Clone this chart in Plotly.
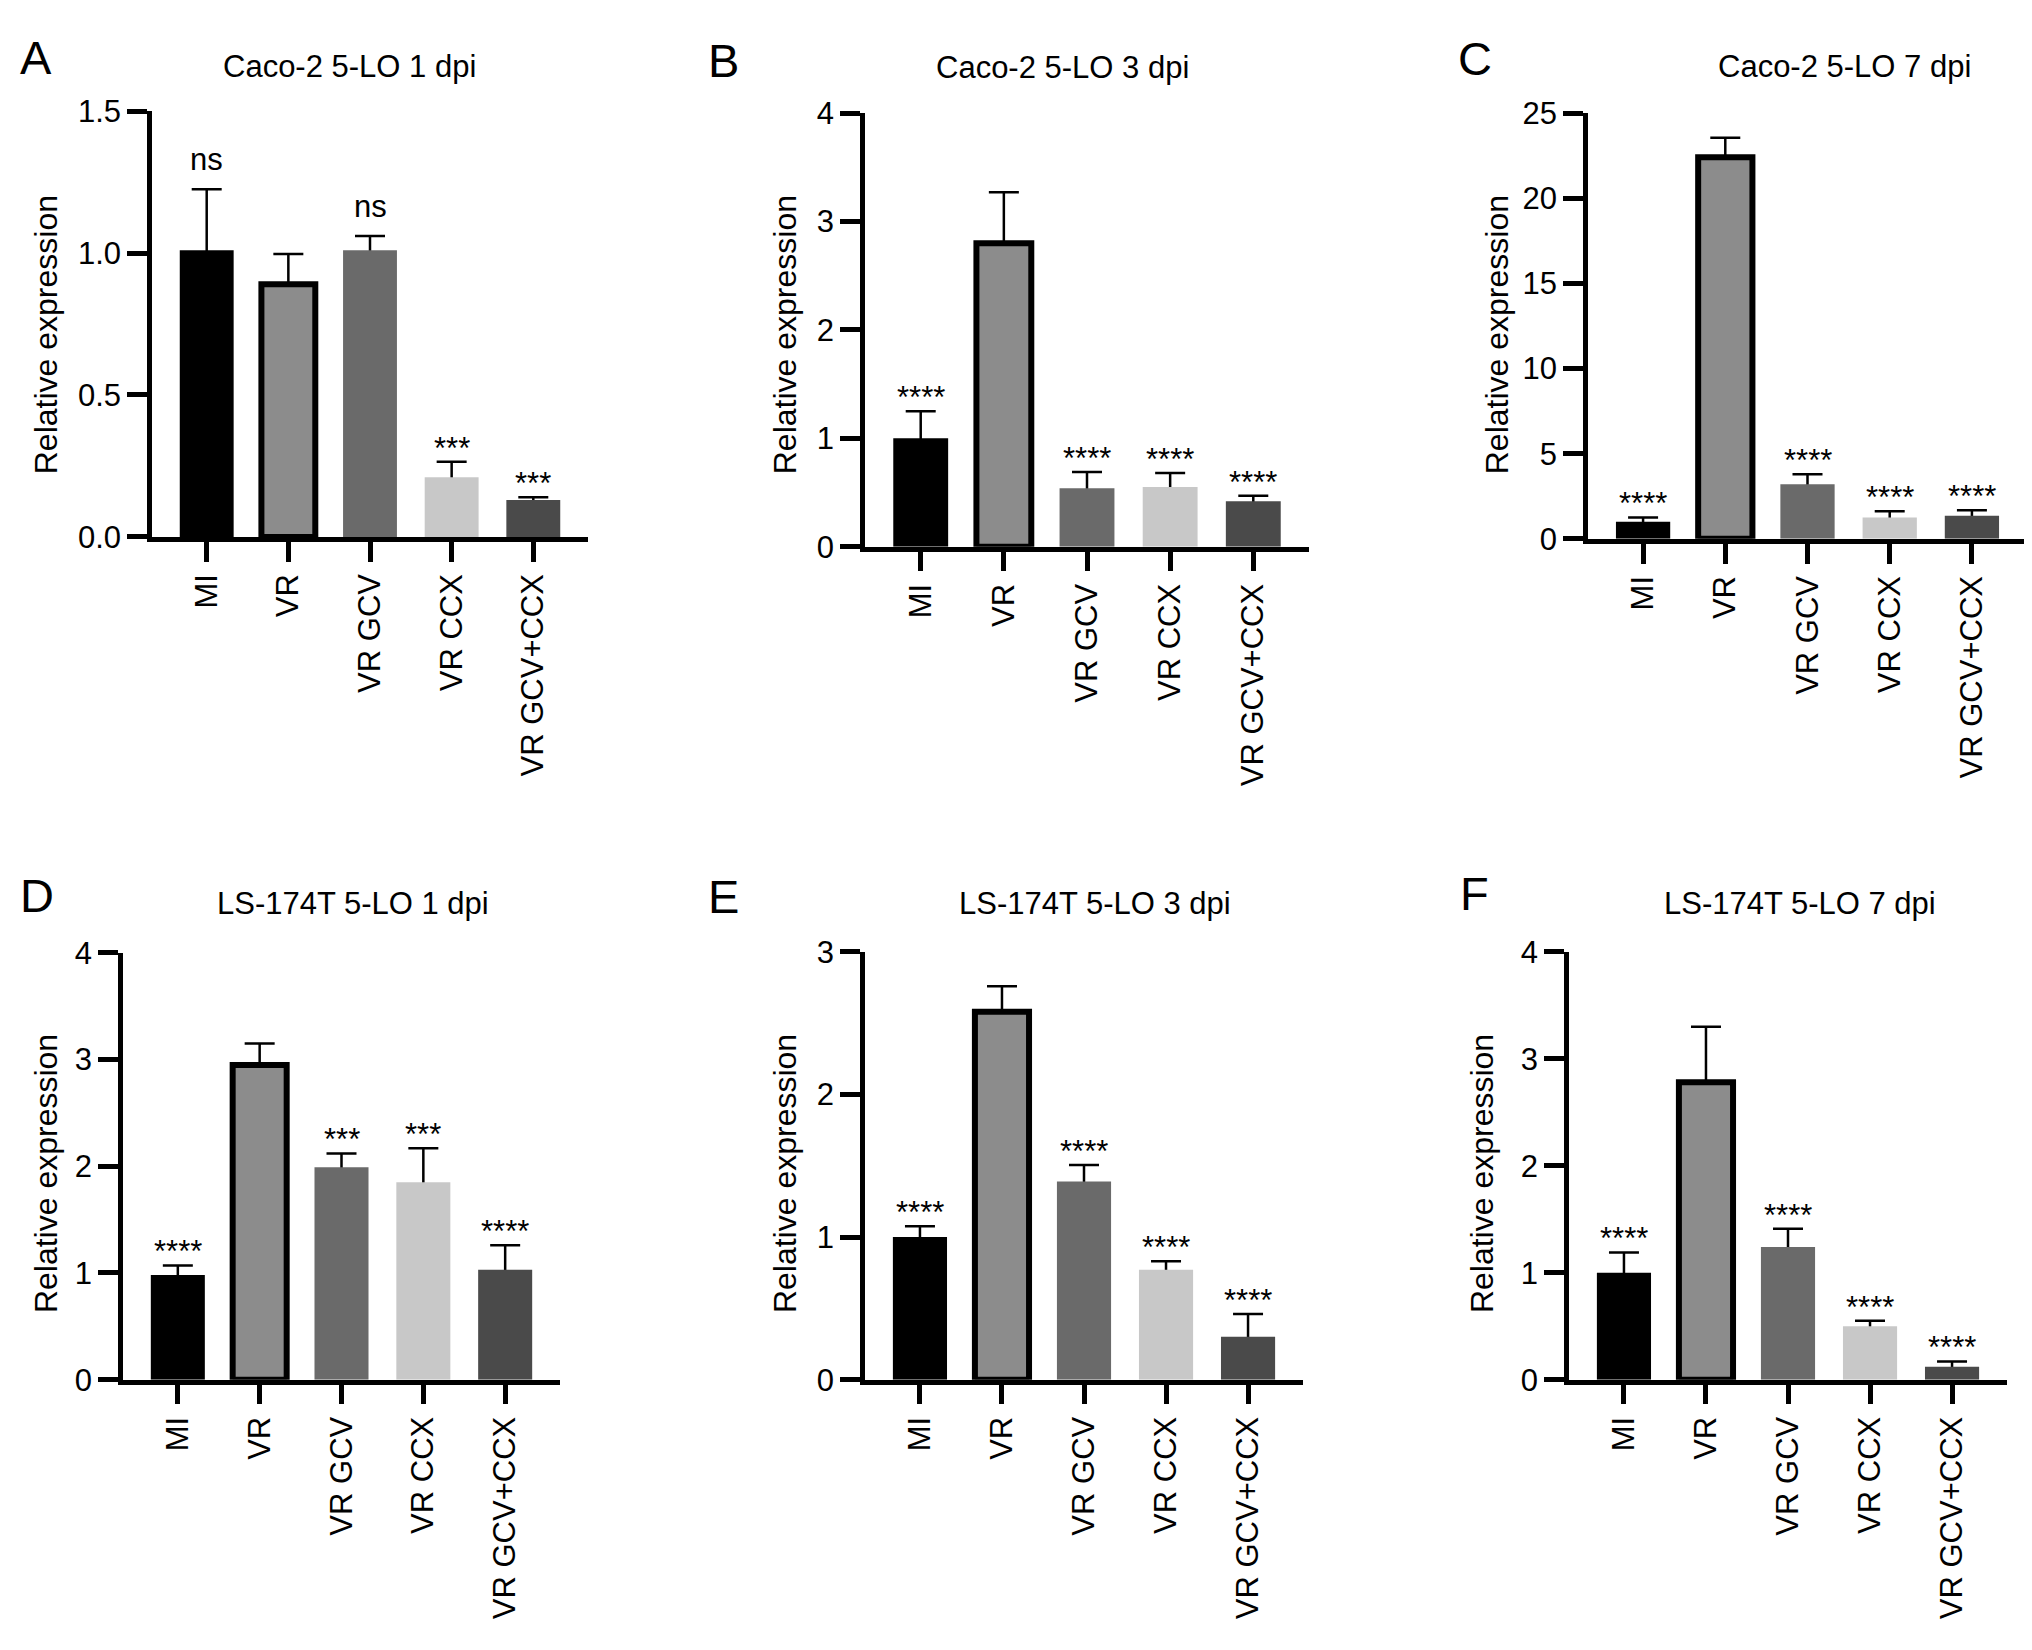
import plotly.graph_objects as go

W, H = 2032, 1650
FONT = "Liberation Sans, Arial, Helvetica, sans-serif"

groups = ["MI", "VR", "VR GCV", "VR CCX", "VR GCV+CCX"]
bar_colors = ["#000000", "#8c8c8c", "#6a6a6a", "#c8c8c8", "#4a4a4a"]
vr_outline = [0, 6, 0, 0, 0]

# mean relative expression and upper SD
caco2_1dpi = [1.01, 0.89, 1.01, 0.21, 0.13]
caco2_1dpi_sd = [0.215, 0.107, 0.05, 0.055, 0.01]
caco2_1dpi_sig = ["ns", "", "ns", "***", "***"]

caco2_3dpi = [1.0, 2.80, 0.54, 0.55, 0.42]
caco2_3dpi_sd = [0.25, 0.47, 0.15, 0.13, 0.05]
caco2_3dpi_sig = ["****", "", "****", "****", "****"]

caco2_7dpi = [1.0, 22.4, 3.2, 1.25, 1.35]
caco2_7dpi_sd = [0.26, 1.15, 0.6, 0.37, 0.33]
caco2_7dpi_sig = ["****", "", "****", "****", "****"]

ls174t_1dpi = [0.98, 2.95, 1.99, 1.85, 1.03]
ls174t_1dpi_sd = [0.09, 0.2, 0.13, 0.32, 0.23]
ls174t_1dpi_sig = ["****", "", "***", "***", "****"]

ls174t_3dpi = [1.0, 2.58, 1.39, 0.77, 0.30]
ls174t_3dpi_sd = [0.075, 0.18, 0.115, 0.06, 0.16]
ls174t_3dpi_sig = ["****", "", "****", "****", "****"]

ls174t_7dpi = [1.0, 2.78, 1.24, 0.50, 0.12]
ls174t_7dpi_sd = [0.19, 0.52, 0.17, 0.05, 0.05]
ls174t_7dpi_sig = ["****", "", "****", "****", "****"]

# letter, title, mean, sd, sig, ymax, dtick, tickformat
panels = [
    ("A", "Caco-2 5-LO 1 dpi", caco2_1dpi, caco2_1dpi_sd, caco2_1dpi_sig, 1.5, 0.5, ".1f"),
    ("B", "Caco-2 5-LO 3 dpi", caco2_3dpi, caco2_3dpi_sd, caco2_3dpi_sig, 4, 1, "d"),
    ("C", "Caco-2 5-LO 7 dpi", caco2_7dpi, caco2_7dpi_sd, caco2_7dpi_sig, 25, 5, "d"),
    ("D", "LS-174T 5-LO 1 dpi", ls174t_1dpi, ls174t_1dpi_sd, ls174t_1dpi_sig, 4, 1, "d"),
    ("E", "LS-174T 5-LO 3 dpi", ls174t_3dpi, ls174t_3dpi_sd, ls174t_3dpi_sig, 3, 1, "d"),
    ("F", "LS-174T 5-LO 7 dpi", ls174t_7dpi, ls174t_7dpi_sd, ls174t_7dpi_sig, 4, 1, "d"),
]

# pixel layout: plot box (x0, x1, y0, y1), title centre, letter centre, y-label x
boxes = [(144, 580, 88, 523), (857, 1301, 90, 533), (1580, 2019, 90, 525),
         (115, 552, 948, 1384), (857, 1295, 947, 1384), (1561, 1999, 947, 1384)]
title_pos = [(341, 42), (1054, 43), (1836, 42), (345, 898), (1087, 898), (1792, 898)]
letter_pos = [(28, 33), (715, 36), (1467, 34), (29, 889), (715, 890), (1466, 887)]
ylabel_x = [38, 777, 1489, 38, 777, 1474]
ylabel_y = [317, 317, 317, 1174, 1174, 1174]


def px(x):
    return x / W


def py(y):
    return 1 - y / H


fig = go.Figure()
layout = {}
annotations = []

for i, (letter, title, mean, sd, sig, ymax, dtick, fmt) in enumerate(panels):
    n = i + 1
    xa, ya = "x%d" % n, "y%d" % n
    x0, x1, y0, y1 = boxes[i]

    # transparent bars carrying the error bars, covered by the real bars
    fig.add_trace(go.Bar(
        x=groups, y=mean, width=0.66, xaxis=xa, yaxis=ya,
        marker=dict(color="rgba(0,0,0,0)", line=dict(width=0)),
        error_y=dict(type="data", array=sd, symmetric=True, color="black",
                     thickness=2.5, width=15),
        hoverinfo="skip", showlegend=False))
    fig.add_trace(go.Bar(
        x=groups, y=mean, width=0.66, xaxis=xa, yaxis=ya,
        marker=dict(color=bar_colors, line=dict(color="black", width=vr_outline)),
        showlegend=False))

    layout["xaxis%d" % n] = dict(
        domain=[px(x0), px(x1)], anchor=ya, type="category",
        categoryorder="array", categoryarray=groups,
        range=[-0.67, 4.67], showline=True, linecolor="black", linewidth=4.5,
        ticks="outside", ticklen=20, tickwidth=4.5, tickcolor="black",
        tickangle=-90, showgrid=False, zeroline=False,
        tickfont=dict(family=FONT, size=31, color="black"))
    layout["yaxis%d" % n] = dict(
        domain=[py(y1), py(y0)], anchor=xa, range=[0, ymax],
        dtick=dtick, tickformat=fmt, showline=True, linecolor="black",
        linewidth=4.5, ticks="outside", ticklen=20, tickwidth=4.5,
        tickcolor="black", showgrid=False, zeroline=False,
        tickfont=dict(family=FONT, size=31, color="black"))

    for g, m, s, t in zip(groups, mean, sd, sig):
        if not t:
            continue
        annotations.append(dict(
            x=g, y=m + s, xref=xa, yref=ya, text=t, showarrow=False,
            yanchor="bottom", yshift=10 if t == "ns" else -6,
            font=dict(family=FONT, size=31, color="black")))

    tx, ty = title_pos[i]
    annotations.append(dict(
        x=px(tx), y=py(ty), xref="paper", yref="paper", text=title,
        showarrow=False, xanchor="center", yanchor="middle",
        font=dict(family=FONT, size=31, color="black")))
    lx, ly = letter_pos[i]
    annotations.append(dict(
        x=px(lx), y=py(ly), xref="paper", yref="paper", text=letter,
        showarrow=False, xanchor="center", yanchor="middle",
        font=dict(family=FONT, size=47, color="black")))
    annotations.append(dict(
        x=px(ylabel_x[i]), y=py(ylabel_y[i]), xref="paper", yref="paper",
        text="Relative expression", textangle=-90, showarrow=False,
        xanchor="center", yanchor="middle",
        font=dict(family=FONT, size=32, color="black")))

fig.update_layout(
    width=W, height=H, margin=dict(l=0, r=0, t=0, b=0),
    paper_bgcolor="white", plot_bgcolor="white",
    barmode="overlay", showlegend=False,
    annotations=annotations, **layout)

fig.write_html("out.html")
